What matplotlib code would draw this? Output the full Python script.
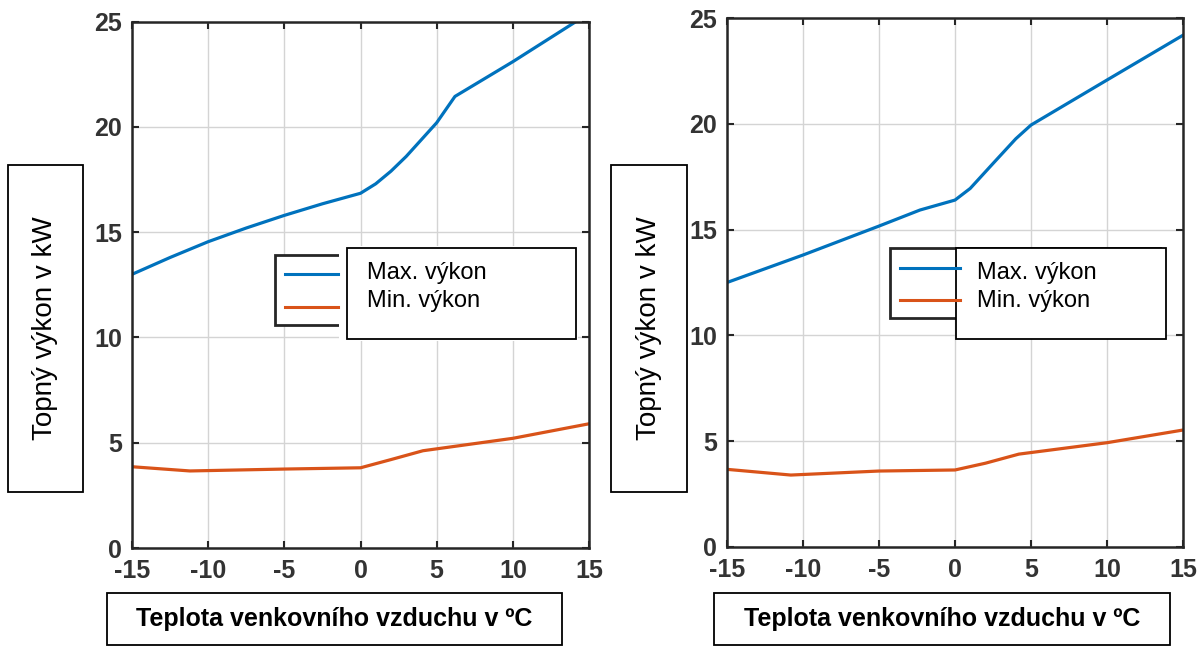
import matplotlib
matplotlib.use('Agg')
import matplotlib.pyplot as plt
from matplotlib.patches import Rectangle
from matplotlib.lines import Line2D

plt.rcParams['font.family'] = ['Liberation Sans', 'DejaVu Sans']
plt.rcParams['axes.unicode_minus'] = False

# left chart
t_max_1 = [-15, -12.5, -10, -7.5, -5, -2.5, 0, 1, 2, 3, 4, 5, 6.2, 10, 15]
p_max_1 = [13.0, 13.8, 14.55, 15.2, 15.8, 16.35, 16.85, 17.3, 17.9, 18.6, 19.4, 20.2, 21.45, 23.1, 25.4]
t_min_1 = [-15, -11.2, -5, 0, 2, 4.1, 10, 15]
p_min_1 = [3.86, 3.66, 3.75, 3.81, 4.2, 4.62, 5.21, 5.9]

# right chart
t_max_2 = [-15, -10, -5, -2.3, 0, 1, 2.5, 4, 5, 10, 15]
p_max_2 = [12.5, 13.8, 15.17, 15.93, 16.4, 16.95, 18.13, 19.3, 19.95, 22.08, 24.2]
t_min_2 = [-15, -10.8, -5, 0, 2, 4.2, 10, 15]
p_min_2 = [3.66, 3.39, 3.58, 3.63, 3.95, 4.38, 4.92, 5.52]

x_ticks = [-15, -10, -5, 0, 5, 10, 15]
y_ticks = [0, 5, 10, 15, 20, 25]
labels = ['Max. výkon', 'Min. výkon']
ylabel = 'Topný výkon v kW'
xlabel = 'Teplota venkovního vzduchu v ºC'

BLUE = '#0072BD'
ORANGE = '#D95319'
W, H = 1202, 646

fig = plt.figure(figsize=(W / 100, H / 100), dpi=100)


def rect(x0, y0, x1, y1):
    # pixel box (top-left origin) -> figure fraction [l, b, w, h]
    return [x0 / W, 1 - y1 / H, (x1 - x0) / W, (y1 - y0) / H]


def box(x0, y0, x1, y1, lw=1.3, ec='black'):
    l, b, w, h = rect(x0, y0, x1, y1)
    fig.patches.append(Rectangle((l, b), w, h, transform=fig.transFigure,
                                 facecolor='white', edgecolor=ec, linewidth=lw, zorder=5))


def line(x0, x1, y, color):
    fig.lines.append(Line2D([x0 / W, x1 / W], [1 - y / H, 1 - y / H], transform=fig.transFigure,
                            color=color, linewidth=2.2, zorder=6))


def make_axes(pos, tmax, pmax, tmin, pmin):
    ax = fig.add_axes(pos)
    ax.plot(tmax, pmax, color=BLUE, linewidth=2.3)
    ax.plot(tmin, pmin, color=ORANGE, linewidth=2.3)
    ax.set_xlim(-15, 15)
    ax.set_ylim(0, 25)
    ax.set_xticks(x_ticks)
    ax.set_xticklabels([str(v) for v in x_ticks], fontweight='bold', color='#333333')
    ax.set_yticks(y_ticks)
    ax.set_yticklabels([str(v) for v in y_ticks], fontweight='bold', color='#333333')
    ax.tick_params(direction='in', length=5, width=1.5, top=True, right=True,
                   labelsize=18, color='#262626')
    ax.tick_params(axis='x', pad=8)
    ax.tick_params(axis='y', pad=7)
    ax.grid(True, color='#d4d4d4', linewidth=1.0)
    ax.set_axisbelow(True)
    for s in ax.spines.values():
        s.set_color('#262626')
        s.set_linewidth(1.8)
    return ax


ax1 = make_axes(rect(132, 21.7, 589, 548), t_max_1, p_max_1, t_min_1, p_min_1)
ax2 = make_axes(rect(727, 18.3, 1183, 546.7), t_max_2, p_max_2, t_min_2, p_min_2)

# legend frames with samples, partly hidden by the white text boxes
box(275, 255, 560, 325, lw=2.0, ec='#262626')
line(285, 338, 274.3, BLUE)
line(285, 338, 306.7, ORANGE)
box(339, 246, 578, 341, lw=0, ec='white')
box(346.7, 248.3, 576, 339.3)

box(890, 248.3, 1160, 318.3, lw=2.0, ec='#262626')
line(900, 960, 268.3, BLUE)
line(900, 960, 300, ORANGE)
box(956, 248.3, 1166, 339.3)

for x0 in (367.3, 977):
    fig.text(x0 / W, 1 - 273.3 / H, labels[0], fontsize=17, va='center', ha='left', zorder=7)
    fig.text(x0 / W, 1 - 301 / H, labels[1], fontsize=17, va='center', ha='left', zorder=7)

# y label boxes
for x0, x1 in ((8, 83), (611, 687)):
    box(x0, 165, x1, 492)
    fig.text((x0 + x1) / 2 / W, 1 - 328 / H, ylabel, rotation=90, fontsize=20,
             ha='center', va='center', zorder=7)

# x label boxes
for x0, x1 in ((107, 562), (714, 1170)):
    box(x0, 593, x1, 645)
    fig.text((x0 + x1) / 2 / W, 1 - 619 / H, xlabel, fontsize=18, fontweight='bold',
             ha='center', va='center', zorder=7)

fig.savefig('out.png', dpi=100)
